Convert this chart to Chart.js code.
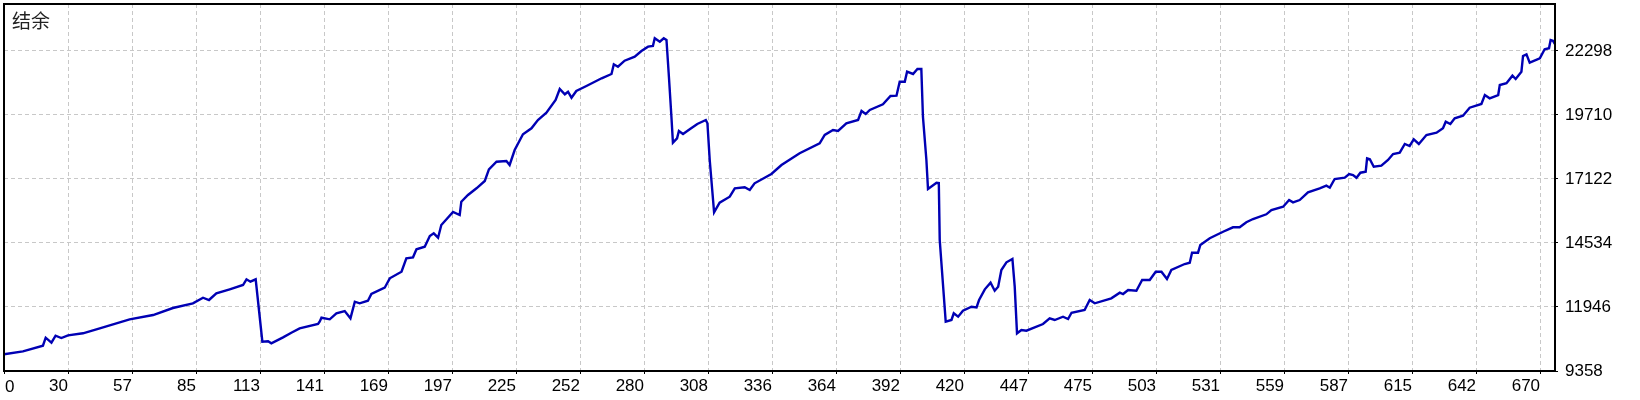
<!DOCTYPE html>
<html>
<head>
<meta charset="utf-8">
<style>
html,body{margin:0;padding:0;background:#fff;overflow:hidden}
#wrap{width:1640px;height:400px;position:relative}
canvas{display:block}
</style>
<script src="https://cdn.jsdelivr.net/npm/chart.js@4.4.1/dist/chart.umd.min.js"></script>
</head>
<body>
<div id="wrap"><canvas id="c" width="1640" height="400"></canvas></div>
<script>
const chartTitle = '结余';
const xTickLabels = ['0','30','57','85','113','141','169','197','225','252','280','308','336','364','392','420','447','475','503','531','559','587','615','642','670'];
const yTickValues = [9358, 11946, 14534, 17122, 19710, 22298];
const yMin = 9358;
const yMax = 24198;
const xMax = 676.5;

const tradeIdx = [
2.2,10.4,19.1,20.3,22.8,24.6,27.1,30.0,36.5,43.8,56.8,67.0,75.6,84.3,88.7,91.3,94.5,100.3,106.1,107.6,109.3,111.6,
114.5,117.0,118.4,123.5,127.1,130.7,138.7,139.4,
140.2,143.8,146.7,150.3,152.8,154.7,156.8,160.4,161.9,167.7,169.9,175.0,177.1,180.0,181.5,185.1,187.3,189.0,190.9,192.3,
197.4,200.3,201.0,203.9,207.6,211.2,213.0,216.3,220.6,222.0,224.2,227.8,231.5,234.3,238.0,242.0,243.8,246.0,247.4,248.9,
251.0,255.4,262.0,266.3,267.3,269.1,272.0,276.4,279.3,282.2,284.3,285.1,287.3,289.0,290.2,
291.3,292.3,293.0,294.8,295.6,297.4,300.3,303.6,307.3,308.0,
309.0,310.9,313.3,317.7,319.9,324.2,326.4,328.5,335.8,340.2,348.1,356.8,359.0,362.6,364.8,368.4,373.5,375.0,376.8,378.6,
384.3,387.6,390.2,391.6,393.8,394.8,397.4,399.3,401.0,
401.7,403.2,403.9,407.6,408.6,
409.0,411.6,414.1,415.1,417.0,419.1,422.8,425.0,426.1,428.6,431.1,432.9,434.4,435.8,438.0,440.6,
441.6,442.6,444.5,446.7,453.9,456.8,459.0,462.6,464.8,466.3,472.0,474.2,476.4,483.6,487.3,488.7,490.9,494.5,497.0,500.3,
502.9,505.4,507.8,509.7,515.5,517.7,518.7,521.3,522.3,526.4,532.2,536.5,539.4,542.3,545.2,551.0,553.2,558.3,560.9,562.6,
565.5,569.1,574.2,577.1,578.6,580.7,585.1,587.0,588.7,590.2,591.9,594.2,594.8,596.0,597.7,601.0,603.9,606.1,609.0,611.2,
613.3,615.1,617.3,620.6,625.0,627.8,629.0,631.0,632.9,636.5,639.4,644.5,646.0,648.1,651.8,652.5,655.4,658.0,659.4,661.9,
662.6,664.1,665.5,669.9,672.0,673.9,674.6,675.6,676.4
];

const balance = [
10033,10154,10381,10704,10502,10785,10692,10801,10882,11084,11448,11622,11905,12095,12322,12229,12500,12661,12835,13066,12969,13066,
10543,10559,10478,10720,10907,11084,11258,11352,
11513,11448,11691,11784,11489,12160,12095,12201,12471,12726,13106,13373,13915,13955,14279,14384,14817,14926,14748,15262,
15787,15666,16204,16475,16746,17041,17514,17821,17850,17688,18294,18929,19172,19507,19803,20316,20761,20547,20652,20409,
20680,20882,21194,21368,21760,21663,21905,22067,22298,22472,22500,22811,22674,22811,22742,
21194,19710,18590,18767,19063,18941,19131,19346,19507,19374,
17890,15775,16163,16406,16746,16786,16677,16948,17324,17688,18161,18565,18901,19103,19063,19374,19507,19871,19750,19912,
20142,20478,20490,21056,21056,21461,21368,21570,21570,
19641,17890,16717,16972,16960,
14655,11351,11420,11691,11554,11796,11958,11933,12229,12661,12928,12605,12767,13442,13753,13887,
12767,10882,11016,10987,11258,11489,11420,11554,11460,11715,11824,12229,12095,12298,12524,12471,12633,12605,13037,13037,
13373,13373,13078,13442,13684,13737,14142,14142,14453,14724,14990,15169,15169,15371,15504,15694,15868,16002,16272,16179,
16272,16584,16746,16851,16770,17122,17174,17324,17283,17174,17376,17417,17959,17918,17619,17660,17890,18133,18185,18537,
18456,18727,18537,18901,18994,19172,19439,19346,19576,19681,20005,20155,20518,20385,20518,20923,20992,21299,21165,21461,
22096,22164,21825,22002,22366,22407,22742,22714,22581
];

// evenly spaced x grid, anchored on the labelled ticks
const xStep = (Number(xTickLabels[xTickLabels.length - 1]) - Number(xTickLabels[1])) / (xTickLabels.length - 2);
const xTickPos = xTickLabels.map((l, i) => Number(xTickLabels[1]) + (i - 1) * xStep);
const xMin = xTickPos[0];

const tickFont = {family: '"Liberation Sans", Arial, sans-serif', size: 17};

const framePlugin = {
  id: 'frame',
  afterDraw(chart) {
    const {ctx, chartArea: a} = chart;
    ctx.save();
    ctx.strokeStyle = '#000';
    ctx.lineWidth = 2;
    ctx.strokeRect(a.left, a.top, a.right - a.left, a.bottom - a.top);
    ctx.fillStyle = '#000';
    ctx.font = '17px "Liberation Sans", Arial, sans-serif';
    ctx.textAlign = 'left';
    ctx.textBaseline = 'alphabetic';
    ctx.fillText(xTickLabels[0], a.left + 1, 392);
    ctx.fillStyle = '#222';
    ctx.font = '19px "Noto Sans CJK SC", sans-serif';
    ctx.fillText(chartTitle, 12, 28);
    ctx.restore();
  }
};

const gridOpts = {color: '#c8c8c8', lineWidth: 1, drawTicks: true, tickLength: 3, tickColor: '#000', tickWidth: 1};

new Chart(document.getElementById('c'), {
  type: 'line',
  data: {
    datasets: [{
      data: tradeIdx.map((x, i) => ({x: x, y: balance[i]})),
      borderColor: '#0000b4',
      borderWidth: 2.4,
      pointRadius: 0,
      tension: 0,
      fill: false
    }]
  },
  options: {
    responsive: false,
    animation: false,
    devicePixelRatio: 1,
    layout: {padding: {left: 4, top: 4, right: 0, bottom: 0}},
    plugins: {legend: {display: false}, tooltip: {enabled: false}, title: {display: false}},
    scales: {
      x: {
        type: 'linear', position: 'bottom', min: xMin, max: xMax,
        afterBuildTicks: s => { s.ticks = xTickPos.map(v => ({value: v})); },
        afterFit: s => { s.height = 29; s.paddingLeft = 0; s.paddingRight = 0; s.paddingTop = 0; s.paddingBottom = 0; },
        grid: gridOpts,
        border: {display: false, dash: [4, 3]},
        ticks: {
          autoSkip: false, maxRotation: 0, minRotation: 0, align: 'end', padding: 2,
          color: '#000', font: tickFont,
          callback: (v, i) => (i === 0 ? '' : xTickLabels[i])
        }
      },
      y: {
        type: 'linear', position: 'right', min: yMin, max: yMax,
        afterBuildTicks: s => { s.ticks = yTickValues.map(v => ({value: v})); },
        afterFit: s => { s.width = 85; s.paddingLeft = 0; s.paddingRight = 0; s.paddingTop = 0; s.paddingBottom = 0; },
        grid: gridOpts,
        border: {display: false, dash: [4, 3]},
        ticks: {padding: 7, color: '#000', font: tickFont, callback: v => String(v)}
      }
    }
  },
  plugins: [framePlugin]
});
</script>
</body>
</html>
